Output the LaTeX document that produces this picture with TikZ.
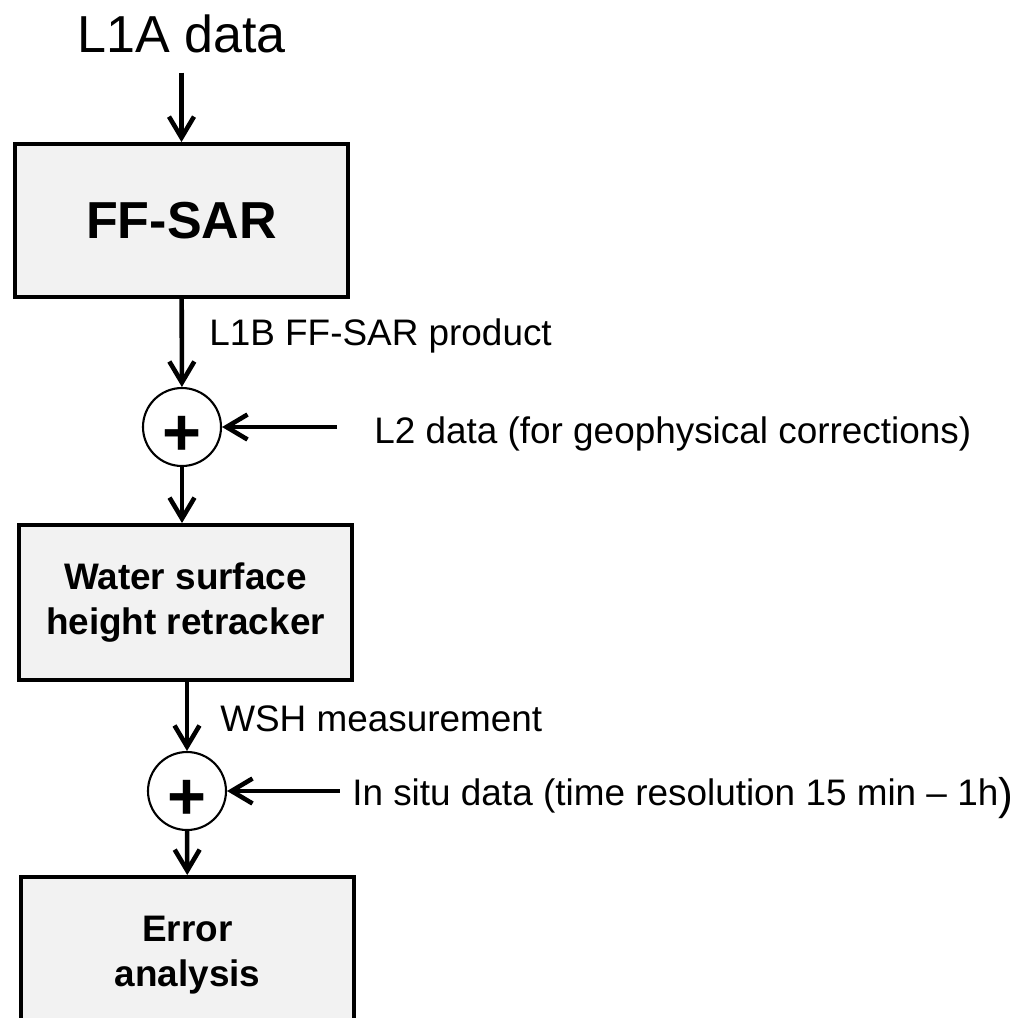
\documentclass[tikz,border=0pt]{standalone}
\usepackage{fontspec}
\setmainfont{Liberation Sans}
\usetikzlibrary{positioning}
\usetikzlibrary{arrows.meta}
\definecolor{boxgray}{HTML}{F2F2F2}
\tikzset{
>={Straight Barb[length=2.1mm,width=2.5mm]}, % open arrow head
block/.style={draw, line width=1.1pt, fill=boxgray, align=center, minimum width=3.33cm, font=\bfseries\fontsize{10.5}{13}\selectfont}, % processing boxes
sum/.style={draw, circle, line width=0.6pt, minimum size=0.78cm, inner sep=0pt, text height=0.85em, text depth=0pt, font=\bfseries\fontsize{19}{19}\selectfont}, % summing points
lbl/.style={anchor=base west, inner sep=0pt, font=\fontsize{10.5}{12.6}\selectfont}, % texts beside the arrows
}

\begin{document}
\begin{tikzpicture}[->, line width=1.3pt]
\useasboundingbox (0,0) rectangle (10.18,-10.18);
%processing chain
\node[anchor=base, font=\fontsize{14.8}{17}\selectfont] (L1A) at (1.815,-0.52) {L1A data};
\node[block, minimum height=1.53cm, font=\bfseries\fontsize{14.8}{17}\selectfont] (FFSAR) at (1.815,-2.205) {FF-SAR};
\node[sum] (SUM1) at (1.82,-4.27) {\raisebox{-1.4mm}{+}};
\node[block, minimum height=1.55cm] (WSH) at (1.855,-6.025) {Water surface\\height retracker};
\node[sum] (SUM2) at (1.87,-7.91) {\raisebox{-1.4mm}{+}};
\node[block, minimum height=1.56cm] (ERR) at (1.875,-9.55) {Error\\analysis};
%labels and inputs
\node[lbl] (L1B) at (2.07,-3.45) {L1B FF-SAR product};
\node[lbl] (L2) at (3.72,-4.43) {L2 data (for geophysical corrections)};
\node[lbl] (WSHM) at (2.18,-7.31) {WSH measurement};
\node[lbl] (INSITU) at (3.50,-8.05) {In situ data (time resolution 15 min – 1h\raisebox{-0.4mm}{\fontsize{12.6}{12.6}\selectfont )}};
\coordinate (L2in) at (3.37,-4.27);
\coordinate (INin) at (3.40,-7.91);
\draw[shorten <=0.6mm] (L1A.south) -- (FFSAR.north);
\draw (FFSAR) -- (SUM1);
\draw (L2in) -- (SUM1);
\draw (SUM1) -- (SUM1 |- WSH.north);
\draw (WSH.south -| SUM2) -- (SUM2);
\draw (INin) -- (SUM2);
\draw (SUM2) -- (ERR);
\end{tikzpicture}
\end{document}
